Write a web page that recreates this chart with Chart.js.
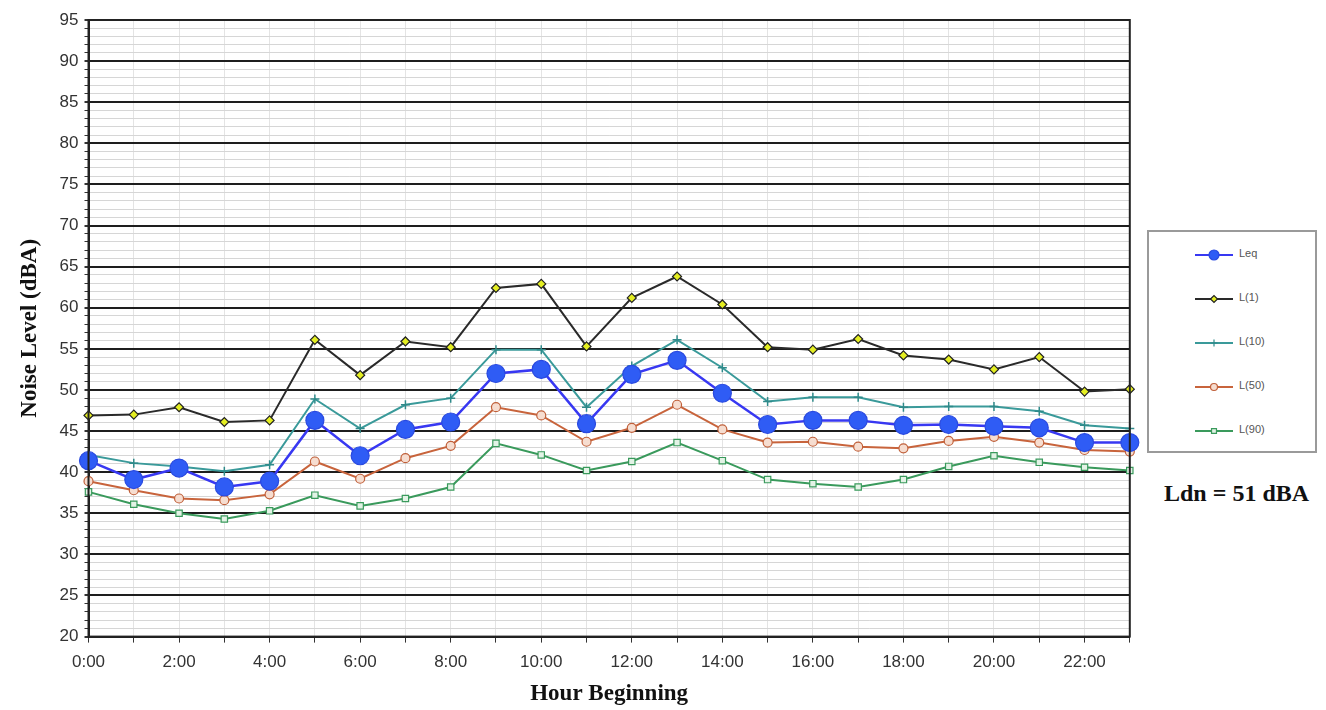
<!DOCTYPE html>
<html>
<head>
<meta charset="utf-8">
<script src="https://cdn.jsdelivr.net/npm/chart.js@4.4.0/dist/chart.umd.min.js"></script>
<style>
    body { margin: 0; background: #fff; }
    #wrap { position: relative; width: 1326px; height: 710px; }
    #chartBox { position: absolute; left: 0; top: 0; width: 1140px; height: 710px; }
    #legend {
        position: absolute; left: 1147px; top: 230px; width: 166px; height: 219px;
        border: 2px solid #9a9a9a; box-sizing: content-box;
    }
    .item { position: absolute; left: 44px; height: 20px; }
    .item canvas { position: absolute; left: 0; top: 0; }
    .item span {
        position: absolute; left: 46px; top: 2px; font: 11px 'Liberation Sans', Arial, sans-serif;
        color: #555; white-space: nowrap;
    }
    #ldn {
        position: absolute; left: 1164px; top: 480px;
        font: bold 24px 'Liberation Serif', 'Times New Roman', serif; color: #111;
    }
</style>
</head>
<body>
<div id="wrap">
    <div id="chartBox"><canvas id="noiseChart"></canvas></div>
    <div id="legend"></div>
    <div id="ldn">Ldn = 51 dBA</div>
</div>
<script>
// Heures de début (0:00 -> 23:00)
const hours = ['0:00', '1:00', '2:00', '3:00', '4:00', '5:00', '6:00', '7:00', '8:00', '9:00', '10:00', '11:00',
    '12:00', '13:00', '14:00', '15:00', '16:00', '17:00', '18:00', '19:00', '20:00', '21:00', '22:00', '23:00'];

// Niveaux horaires (dBA)
const leq = [41.4, 39.1, 40.5, 38.2, 38.9, 46.3, 42.0, 45.2, 46.1, 52.0, 52.5, 45.9,
    51.9, 53.6, 49.6, 45.8, 46.3, 46.3, 45.7, 45.8, 45.6, 45.4, 43.6, 43.6];
const l1 = [46.9, 47.0, 47.9, 46.1, 46.3, 56.1, 51.8, 55.9, 55.2, 62.4, 62.9, 55.3,
    61.2, 63.8, 60.4, 55.2, 54.9, 56.2, 54.2, 53.7, 52.5, 54.0, 49.8, 50.1];
const l10 = [42.1, 41.1, 40.7, 40.1, 40.9, 48.9, 45.3, 48.2, 49.0, 54.9, 54.9, 47.9,
    52.9, 56.1, 52.7, 48.6, 49.1, 49.1, 47.9, 48.0, 48.0, 47.4, 45.7, 45.3];
const l50 = [38.9, 37.8, 36.8, 36.6, 37.3, 41.3, 39.2, 41.7, 43.2, 47.9, 46.9, 43.7,
    45.4, 48.2, 45.2, 43.6, 43.7, 43.1, 42.9, 43.8, 44.3, 43.6, 42.7, 42.5];
const l90 = [37.6, 36.1, 35.0, 34.3, 35.3, 37.2, 35.9, 36.8, 38.2, 43.5, 42.1, 40.2,
    41.3, 43.6, 41.4, 39.1, 38.6, 38.2, 39.1, 40.7, 42.0, 41.2, 40.6, 40.2];

const yMin = 20;
const yMax = 95;

const series = [
    { label: 'Leq', data: leq, line: '#3838f2', fill: '#2f5cf5', edge: '#2a4ae0', style: 'circle', radius: 9, lw: 2.5, order: 0 },
    { label: 'L(1)', data: l1, line: '#2a2a2a', fill: '#e4ee22', edge: '#222', style: 'rectRot', radius: 4.5, lw: 2, order: 1 },
    { label: 'L(10)', data: l10, line: '#3a9a9a', fill: '#3a9a9a', edge: '#2f8a8a', style: 'cross', radius: 4.5, lw: 2, order: 2 },
    { label: 'L(50)', data: l50, line: '#c8643c', fill: '#f6ddd0', edge: '#c0603a', style: 'circle', radius: 4.5, lw: 2, order: 3 },
    { label: 'L(90)', data: l90, line: '#3a9a5c', fill: '#e3f3e6', edge: '#3a9a5c', style: 'rect', radius: 4.5, lw: 2, order: 4 },
];

// Cadre complet autour de la zone de tracé
const frame = {
    id: 'frame',
    afterDraw(chart) {
        const { ctx, chartArea: a } = chart;
        ctx.save();
        ctx.strokeStyle = '#222';
        ctx.lineWidth = 2;
        ctx.strokeRect(a.left, a.top, a.right - a.left, a.bottom - a.top);
        ctx.restore();
    }
};

const ctx = document.getElementById('noiseChart').getContext('2d');
new Chart(ctx, {
    type: 'line',
    data: {
        labels: hours,
        datasets: series.map(s => ({
            label: s.label,
            data: s.data,
            borderColor: s.line,
            borderWidth: s.lw,
            pointStyle: s.style,
            pointRadius: s.radius,
            pointBackgroundColor: s.fill,
            pointBorderColor: s.edge,
            pointBorderWidth: s.style === 'cross' ? 1.5 : 1.2,
            tension: 0,
            order: s.order,
        }))
    },
    options: {
        responsive: true,
        maintainAspectRatio: false,
        animation: false,
        layout: { padding: { top: 20, right: 10, left: 12, bottom: 0 } },
        plugins: {
            legend: { display: false },
            tooltip: { enabled: false }
        },
        scales: {
            x: {
                offset: false,
                title: {
                    display: true,
                    text: 'Hour Beginning',
                    color: '#111',
                    font: { family: "'Liberation Serif', 'Times New Roman', serif", size: 23, weight: 'bold', lineHeight: 1.0 },
                    padding: { top: 0, bottom: 4 }
                },
                ticks: {
                    autoSkip: false,
                    maxRotation: 0,
                    color: '#333',
                    font: { family: "'Liberation Sans', Arial, sans-serif", size: 17 },
                    padding: 10,
                    callback: function(value, index) {
                        return index % 2 === 0 ? hours[index] : '';
                    }
                },
                grid: {
                    color: '#e4e4e4',
                    tickColor: '#333',
                    tickLength: 6
                },
                border: { color: '#222', width: 2 }
            },
            y: {
                min: yMin,
                max: yMax,
                title: {
                    display: true,
                    text: 'Noise Level (dBA)',
                    color: '#111',
                    font: { family: "'Liberation Serif', 'Times New Roman', serif", size: 23, weight: 'bold' },
                    padding: { bottom: 10 }
                },
                ticks: {
                    stepSize: 1,
                    autoSkip: false,
                    maxTicksLimit: 100,
                    color: '#333',
                    font: { family: "'Liberation Sans', Arial, sans-serif", size: 17 },
                    padding: 6,
                    callback: function(value) {
                        return value % 5 === 0 ? value : '';
                    }
                },
                grid: {
                    color: c => (c.tick && c.tick.value % 5 === 0) ? '#1e1e1e' : '#d6d6d6',
                    lineWidth: c => (c.tick && c.tick.value % 5 === 0) ? 2 : 1,
                    tickColor: '#333',
                    tickLength: 4
                },
                border: { color: '#222', width: 2 }
            }
        }
    },
    plugins: [frame]
});

// Légende à droite
const legendEl = document.getElementById('legend');
series.forEach((s, i) => {
    const item = document.createElement('div');
    item.className = 'item';
    item.style.top = (13 + i * 44) + 'px';
    const c = document.createElement('canvas');
    c.width = 42;
    c.height = 20;
    const g = c.getContext('2d');
    g.strokeStyle = s.line;
    g.lineWidth = 2;
    g.beginPath();
    g.moveTo(2, 10);
    g.lineTo(40, 10);
    g.stroke();
    g.fillStyle = s.fill;
    g.strokeStyle = s.edge;
    g.lineWidth = 1.2;
    Chart.helpers.drawPoint(g, {
        pointStyle: s.style,
        radius: s.style === 'circle' && s.radius > 5 ? 5 : 3.5,
        borderWidth: 1.2,
        rotation: 0
    }, 21, 10);
    const t = document.createElement('span');
    t.textContent = s.label;
    item.appendChild(c);
    item.appendChild(t);
    legendEl.appendChild(item);
});
</script>
</body>
</html>
